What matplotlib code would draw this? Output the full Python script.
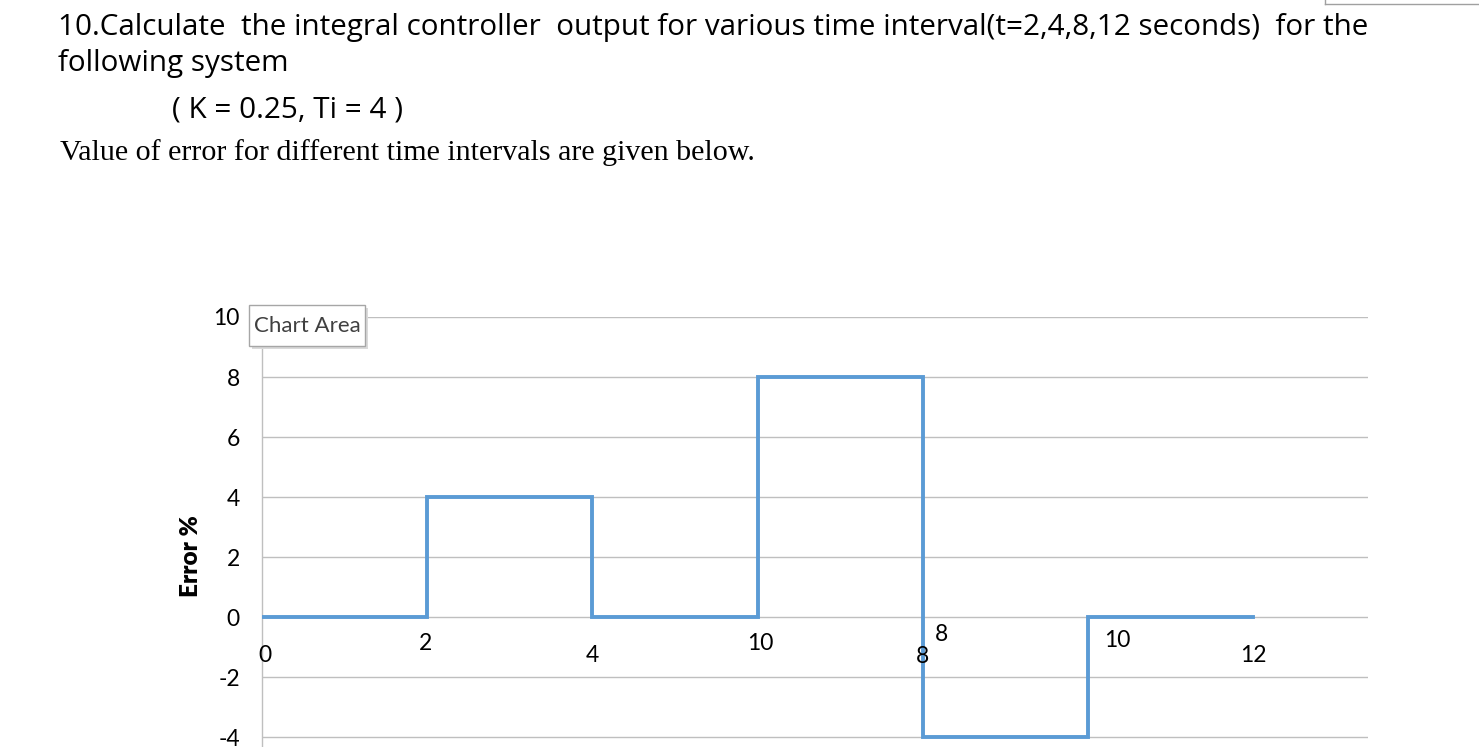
import matplotlib
matplotlib.use("Agg")
import matplotlib.pyplot as plt
from matplotlib.patches import Rectangle

# step signal: error % over time
t_pts = [0, 2, 2, 4, 4, 6, 6, 8, 8, 10, 10, 12]
err_pts = [0, 0, 4, 4, 0, 0, 8, 8, -4, -4, 0, 0]

# data labels as they appear on the chart
lab_text = ["0", "2", "4", "10", "8", "8", "10", "12"]
lab_t = [0.04, 1.98, 4.0, 6.03, 8.0, 8.23, 10.36, 12.0]
lab_y = [-1.27, -0.87, -1.3, -0.87, -1.33, -0.57, -0.77, -1.27]

yticks = [-4, -2, 0, 2, 4, 6, 8, 10]

blue = "#5B9BD5"
grid = "#BFBFBF"
chart_font = ["Lato", "DejaVu Sans"]

fig = plt.figure(figsize=(14.79, 7.47), dpi=100)

# problem text above the chart
fig.text(58/1479, 1 - 27/747, "10.Calculate  the integral controller  output for various time interval(t=2,4,8,12 seconds)  for the",
         family="Open Sans", fontsize=21.3, va="center", ha="left")
fig.text(58/1479, 1 - 63/747, "following system", family="Open Sans", fontsize=21.3, va="center", ha="left")
fig.text(172/1479, 1 - 110/747, "( K = 0.25, Ti = 4 )", family="Open Sans", fontsize=21.3, va="center", ha="left")
fig.text(60/1479, 1 - 153/747, "Value of error for different time intervals are given below.",
         family="Liberation Serif", fontsize=21.6, va="center", ha="left")

# little box corner in top right
fig.add_artist(plt.Line2D([1325/1479, 1], [1 - 4/747, 1 - 4/747], color="#A0A0A0", lw=1, transform=fig.transFigure))
fig.add_artist(plt.Line2D([1325/1479, 1325/1479], [1, 1 - 4/747], color="#A0A0A0", lw=1, transform=fig.transFigure))

ax = fig.add_axes([262/1479, 0, (1368 - 262)/1479, 1 - 317/747])
ax.plot(t_pts, err_pts, color=blue, lw=2.8, solid_joinstyle="miter", zorder=3)

ax.set_xlim(0, (1368 - 262) / ((1253 - 262) / 12))
ax.set_ylim(-4 - 10/30, 10)
ax.set_yticks(yticks)
ax.set_yticklabels([str(v) for v in yticks], family=chart_font, fontsize=16.5)
ax.set_xticks([])
for v in yticks:
    ax.axhline(v, color=grid, lw=1, zorder=1)
for s in ["top", "right", "bottom"]:
    ax.spines[s].set_visible(False)
ax.spines["left"].set_color(grid)
ax.spines["left"].set_linewidth(1)
ax.tick_params(axis="y", length=0, pad=16)
ax.text(191/1479, 1 - 556/747, "Error %", transform=fig.transFigure, family=chart_font, fontsize=17.5,
        fontweight="heavy", rotation=90, ha="center", va="center")

for txt, tx, ty in zip(lab_text, lab_t, lab_y):
    ax.text(tx, ty, txt, family=chart_font, fontsize=16.5, ha="center", va="center", zorder=4)

# "Chart Area" tooltip with a soft shadow
fig.add_artist(Rectangle((252/1479, 1 - 349/747), 116/1479, 41/747, transform=fig.transFigure,
                         facecolor="#DADADA", edgecolor="none", zorder=9))
fig.add_artist(Rectangle((249/1479, 1 - 346/747), 116/1479, 41/747, transform=fig.transFigure,
                         facecolor="white", edgecolor="#A6A6A6", lw=1, zorder=10))
fig.text(307/1479, 1 - 326/747, "Chart Area", family=chart_font, fontsize=16, color="#404040",
         ha="center", va="center", zorder=11)

fig.savefig("out.png", dpi=100)
